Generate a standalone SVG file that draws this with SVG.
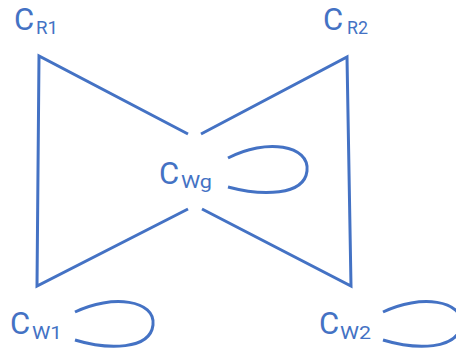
<svg xmlns="http://www.w3.org/2000/svg" width="456" height="351" viewBox="0 0 456 351">
<style>
.e{fill:none;stroke:#4472C4;stroke-width:3;stroke-linejoin:miter;stroke-linecap:butt}
.m{font-family:Roboto,"Liberation Sans",sans-serif;font-size:31px;fill:#4472C4}
.s{font-family:Roboto,"Liberation Sans",sans-serif;font-size:19px;fill:#4472C4}
</style>
<rect width="456" height="351" fill="#fff"/>
<g id="connectors">
<polyline class="e" points="188,134 39,56 37,286 188,209"/>
<polyline class="e" points="201,134 347,57 351,286 202,209"/>
<path class="e" d="M228,158 C266,138 310,145 307,171 C304,196 262,196 228,187"/>
<path class="e" d="M75,312 C112,294 156,300 153,325 C150,350 108,350 75,340"/>
<path class="e" d="M383,312 C420,294 464,300 461,325 C458,350 416,350 383,340"/>
</g>
<g id="CR1"><text class="m" x="14" y="30">C</text><text class="s" x="36" y="34" textLength="22" lengthAdjust="spacingAndGlyphs">R1</text></g>
<g id="CR2"><text class="m" x="323" y="30">C</text><text class="s" x="347" y="34" textLength="21" lengthAdjust="spacingAndGlyphs">R2</text></g>
<g id="CWg"><text class="m" x="159" y="184">C</text><text class="s" x="181" y="188" textLength="31" lengthAdjust="spacingAndGlyphs">Wg</text></g>
<g id="CW1"><text class="m" x="10" y="334">C</text><text class="s" x="32" y="339" textLength="30" lengthAdjust="spacingAndGlyphs">W1</text></g>
<g id="CW2"><text class="m" x="319" y="334">C</text><text class="s" x="340" y="339" textLength="31" lengthAdjust="spacingAndGlyphs">W2</text></g>
</svg>
